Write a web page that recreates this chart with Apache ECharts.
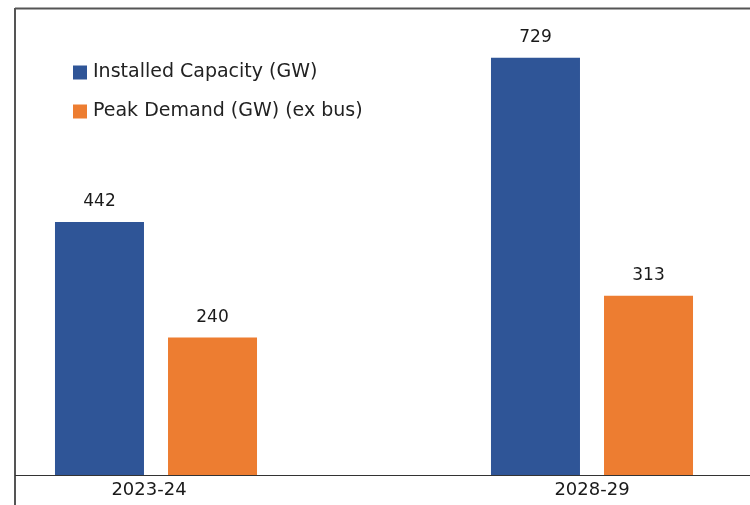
<!DOCTYPE html>
<html><head><meta charset="utf-8">
<script src="https://cdn.jsdelivr.net/npm/echarts@6/dist/echarts.min.js"></script>
<style>html,body{margin:0;padding:0;background:#fff}#c{width:750px;height:505px}</style>
</head><body><div id="c"></div>
<script>
var categories = ['2023-24', '2028-29'];
var installedCapacity = [442, 729];
var peakDemand = [240, 313];
var seriesNames = ['Installed Capacity (GW)', 'Peak Demand (GW) (ex bus)'];

var chart = echarts.init(document.getElementById('c'));
var labelStyle = {show: true, position: 'top', distance: 12, color: '#1a1a1a', fontFamily: 'DejaVu Sans', fontSize: 17};
var catData = categories.map(function (c, i) {
  return i === 0 ? {value: c, textStyle: {padding: [0, 14, 0, 0]}} : c;
});
chart.setOption({
  animation: false,
  backgroundColor: '#fff',
  grid: {left: -62, width: 872, top: 17, bottom: 30, outerBoundsMode: 'none', containLabel: false},
  legend: {
    orient: 'vertical', left: 73, top: 63, itemWidth: 14, itemHeight: 14, itemGap: 20,
    icon: 'rect', padding: 0,
    textStyle: {fontFamily: 'DejaVu Sans', fontSize: 19, color: '#222', lineHeight: 14, padding: [0,0,0,1]},
    data: seriesNames
  },
  xAxis: {
    type: 'category', data: catData,
    axisLine: {show: false}, axisTick: {show: false},
    axisLabel: {margin: 6, fontFamily: 'DejaVu Sans', fontSize: 18, color: '#1a1a1a'}
  },
  yAxis: {type: 'value', min: 0, max: 800, show: false, splitLine: {show: false}},
  series: [
    {name: seriesNames[0], type: 'bar', data: installedCapacity, barWidth: 89, barGap: '27%',
     itemStyle: {color: '#2F5597'}, label: labelStyle},
    {name: seriesNames[1], type: 'bar', data: peakDemand, barWidth: 89,
     itemStyle: {color: '#ED7D31'}, label: labelStyle}
  ],
  graphic: [
    {type: 'line', shape: {x1: 15, y1: 8.5, x2: 750, y2: 8.5}, style: {stroke: '#555', lineWidth: 2}},
    {type: 'line', shape: {x1: 15, y1: 8, x2: 15, y2: 505}, style: {stroke: '#555', lineWidth: 2}},
    {type: 'line', shape: {x1: 15, y1: 475.5, x2: 750, y2: 475.5}, style: {stroke: '#333', lineWidth: 1.2}}
  ]
});
</script></body></html>
